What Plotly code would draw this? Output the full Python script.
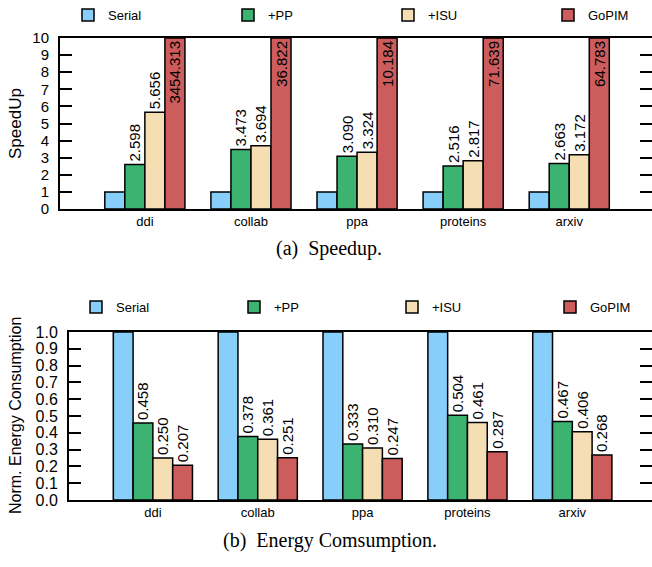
import numpy as np
import plotly.graph_objects as go

# ---------------- data ----------------
categories = ["ddi", "collab", "ppa", "proteins", "arxiv"]
series_names = ["Serial", "+PP", "+ISU", "GoPIM"]

speedup_serial = [1.0, 1.0, 1.0, 1.0, 1.0]
speedup_pp = [2.598, 3.473, 3.090, 2.516, 2.663]
speedup_isu = [5.656, 3.694, 3.324, 2.817, 3.172]
speedup_gopim = [3454.313, 36.822, 10.184, 71.639, 64.783]

energy_serial = [1.0, 1.0, 1.0, 1.0, 1.0]
energy_pp = [0.458, 0.378, 0.333, 0.504, 0.467]
energy_isu = [0.250, 0.361, 0.310, 0.461, 0.406]
energy_gopim = [0.207, 0.251, 0.247, 0.287, 0.268]

speedup_ticks = [0, 1, 2, 3, 4, 5, 6, 7, 8, 9, 10]
energy_ticks = [0.0, 0.1, 0.2, 0.3, 0.4, 0.5, 0.6, 0.7, 0.8, 0.9, 1.0]
energy_tick_text = ["0.0", "0.1", "0.2", "0.3", "0.4", "0.5", "0.6", "0.7", "0.8", "0.9", "1.0"]

colors = ["#87CEFA", "#3CB371", "#F5DEB3", "#CD5C5C"]

SPEED_MAX = 10
ENERGY_MAX = 1.0

SANS = "Liberation Sans, Arial, sans-serif"
SERIF = "Liberation Serif, Times New Roman, serif"

W, H = 652, 567

fig = go.Figure()


def add_series(values, name, color, ymax, xaxis, yaxis, legend, show_text):
    vals = np.array(values, dtype=float)
    shown = np.minimum(vals, ymax)
    if show_text:
        text = [f"{v:.3f}" for v in vals]
        pos = ["inside" if v > ymax else "outside" for v in vals]
    else:
        text = None
        pos = "none"
    fig.add_trace(go.Bar(
        x=categories, y=shown, name=name,
        text=text, textposition=pos, textangle=-90,
        insidetextanchor="end", constraintext="none", cliponaxis=False,
        textfont=dict(family=SANS, size=15, color="black"),
        insidetextfont=dict(family=SANS, size=15, color="black"),
        outsidetextfont=dict(family=SANS, size=15, color="black"),
        marker=dict(color=color, line=dict(color="black", width=1.5)),
        xaxis=xaxis, yaxis=yaxis, legend=legend,
        hoverinfo="skip",
    ))


top = [speedup_serial, speedup_pp, speedup_isu, speedup_gopim]
bot = [energy_serial, energy_pp, energy_isu, energy_gopim]
for i, name in enumerate(series_names):
    add_series(top[i], name, colors[i], SPEED_MAX, "x", "y", "legend", i > 0)
for i, name in enumerate(series_names):
    add_series(bot[i], name, colors[i], ENERGY_MAX, "x2", "y2", "legend2", i > 0)

axis_common = dict(showline=True, linecolor="black", linewidth=2, showgrid=False,
                   zeroline=False)

fig.update_layout(
    width=W, height=H,
    margin=dict(l=0, r=0, t=0, b=0, autoexpand=False),
    paper_bgcolor="white", plot_bgcolor="white",
    barmode="group", bargap=0.245, bargroupgap=0,
    font=dict(family=SANS, color="black"),
    xaxis=dict(domain=[60 / W, 1], range=[-0.8, 4.78], anchor="y", mirror=True,
               ticks="", tickfont=dict(size=13), ticklabelstandoff=-1,
               automargin=False, **axis_common),
    yaxis=dict(domain=[1 - 209 / H, 1 - 38 / H], range=[0, SPEED_MAX], anchor="x",
               tickvals=speedup_ticks, ticks="inside", ticklen=12, tickwidth=2,
               tickcolor="black", mirror="ticks", tickfont=dict(size=15),
               ticklabelstandoff=6, automargin=False, **axis_common),
    xaxis2=dict(domain=[69 / W, 1], range=[-0.8, 4.76], anchor="y2", mirror=True,
                ticks="", tickfont=dict(size=13), ticklabelstandoff=-1,
                automargin=False, **axis_common),
    yaxis2=dict(domain=[1 - 500 / H, 1 - 332 / H], range=[0, ENERGY_MAX], anchor="x2",
                tickvals=energy_ticks, ticktext=energy_tick_text, ticks="inside",
                ticklen=12, tickwidth=2, tickcolor="black", mirror="ticks",
                tickfont=dict(size=16), ticklabelstandoff=6, automargin=False,
                **axis_common),
    legend=dict(orientation="h", x=68 / W, y=1 - 15 / H, xanchor="left",
                yanchor="middle", entrywidth=115, entrywidthmode="pixels",
                font=dict(size=13), bgcolor="rgba(0,0,0,0)", traceorder="normal"),
    legend2=dict(orientation="h", x=76 / W, y=1 - 307 / H, xanchor="left",
                 yanchor="middle", entrywidth=113, entrywidthmode="pixels",
                 font=dict(size=13), bgcolor="rgba(0,0,0,0)", traceorder="normal"),
    showlegend=True,
)

fig.add_annotation(text="SpeedUp", xref="paper", yref="paper", x=15 / W,
                   y=1 - 124 / H, textangle=-90, showarrow=False,
                   font=dict(family=SANS, size=17, color="black"),
                   xanchor="center", yanchor="middle")
fig.add_annotation(text="Norm. Energy Consumption", xref="paper", yref="paper",
                   x=15 / W, y=1 - 416 / H, textangle=-90, showarrow=False,
                   font=dict(family=SANS, size=16, color="black"),
                   xanchor="center", yanchor="middle")
fig.add_annotation(text="(a)\u00a0\u00a0Speedup.", xref="paper", yref="paper",
                   x=329 / W, y=1 - 248 / H, showarrow=False,
                   font=dict(family=SERIF, size=20, color="black"),
                   xanchor="center", yanchor="middle")
fig.add_annotation(text="(b)\u00a0\u00a0Energy Comsumption.", xref="paper", yref="paper",
                   x=330 / W, y=1 - 540 / H, showarrow=False,
                   font=dict(family=SERIF, size=20, color="black"),
                   xanchor="center", yanchor="middle")

fig.write_html(
    "out.html",
    config={"displayModeBar": False},
    post_script="document.body.style.margin='0';document.body.style.padding='0';",
)
